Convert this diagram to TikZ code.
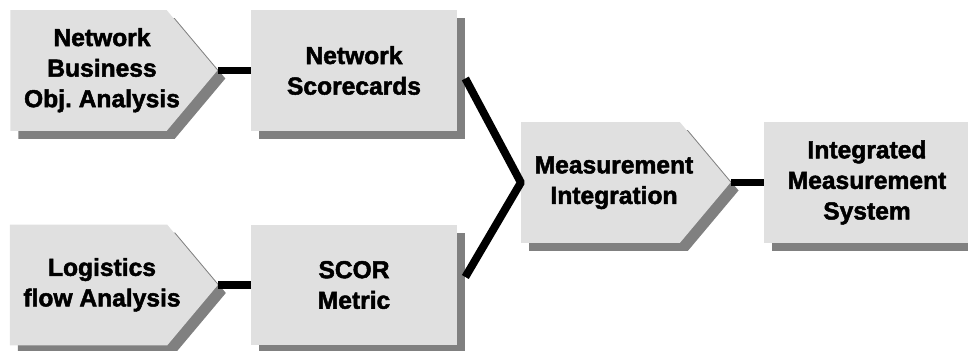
\documentclass[tikz,border=0pt]{standalone}
\usepackage{fontspec}
\setmainfont{Liberation Sans}[BoldFeatures={FakeBold=2}]
\usetikzlibrary{calc,shapes.symbols,shadows}
\definecolor{boxgrey}{RGB}{224,224,224}
\definecolor{shadegrey}{RGB}{128,128,128}
% text of a pentagon sits a little towards its point
\newcommand{\pentext}[1]{\kern0.27cm\begin{tabular}{@{}c@{}}#1\end{tabular}\kern-0.27cm}
\tikzstyle{card}=[fill=boxgrey,inner sep=0pt,align=center,
  font=\fontsize{14}{17.4}\selectfont\bfseries\frenchspacing,
  drop shadow={shadow xshift=0.16cm,shadow yshift=-0.16cm,fill=shadegrey,opacity=1}]
\tikzstyle{pentbox}=[card,signal,signal to=east,signal pointer angle=100,minimum width=4.14cm,minimum height=2.42cm]
\tikzstyle{rectbox}=[card,rectangle,minimum width=4.12cm,minimum height=2.42cm]
\tikzstyle{link}=[line width=4.5pt,line join=round]

\begin{document}
\begin{tikzpicture}[x=0.02cm,y=-0.02cm]
\useasboundingbox (0,0) rectangle (968,351);
\draw (88.5,70.5) node [pentbox] (nboa) {\pentext{Network\\Business\\Obj. Analysis}};
\draw (354,70.5) node [rectbox] (nsc) {Network\\Scorecards};
\draw (88.5,285) node [pentbox] (lfa) {\pentext{Logistics\\flow Analysis}};
\draw (354,285) node [rectbox] (scor) {SCOR\\Metric};
\draw (600.5,182.5) node [pentbox] (mi) {\pentext{Measurement\\Integration}};
\draw (867,182.5) node [rectbox] (ims) {Integrated\\Measurement\\System};
\draw[link] (nboa.east) -- (nsc.west);
\draw[link] (lfa.east) -- (scor.west);
\draw[link] ($(nsc.east)+(8,8)$) -- (mi.west) -- ($(scor.east)+(8,-8)$);
\draw[link] (mi.east) -- (ims.west);
\end{tikzpicture}
\end{document}
